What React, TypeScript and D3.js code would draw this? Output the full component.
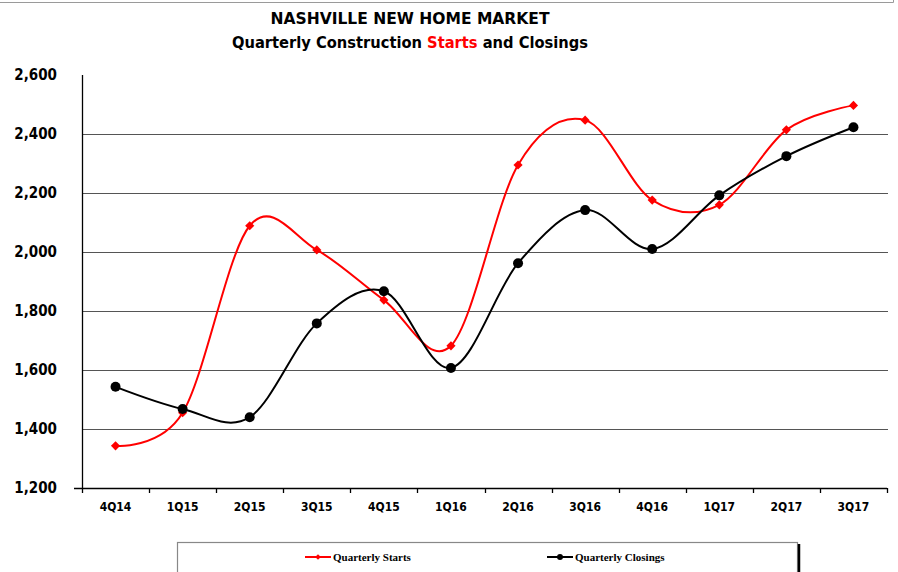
import React, { useEffect, useRef } from 'react';
import * as d3 from 'd3';

const quarters = ['4Q14', '1Q15', '2Q15', '3Q15', '4Q15', '1Q16', '2Q16', '3Q16', '4Q16', '1Q17', '2Q17', '3Q17'];
const starts = [1343, 1455, 2089, 2007, 1837, 1682, 2295, 2447, 2176, 2160, 2414, 2497];
const closings = [1543, 1468, 1440, 1758, 1867, 1607, 1962, 2142, 2010, 2192, 2325, 2423];
const yTicks = [1200, 1400, 1600, 1800, 2000, 2200, 2400, 2600];

const W = 898;
const H = 572;
const plot = { left: 82, right: 887, top: 75, bottom: 488 };

const App: React.FC = () => {
  const svgRef = useRef<SVGSVGElement>(null);

  useEffect(() => {
    const svg = d3.select(svgRef.current);
    svg.selectAll('*').remove();

    const x = d3.scaleBand<string>()
      .domain(quarters)
      .range([plot.left, plot.right])
      .padding(0);
    const cx = (q: string) => x(q)! + x.bandwidth() / 2;

    const y = d3.scaleLinear()
      .domain([1200, 2600])
      .range([plot.bottom, plot.top]);

    // outer frame edge at the top
    svg.append('path')
      .attr('d', `M0,2.5H893.5V-2`)
      .attr('fill', 'none')
      .attr('stroke', '#9a9a9a')
      .attr('stroke-width', 1);

    // title
    svg.append('text')
      .attr('x', 410)
      .attr('y', 24)
      .attr('text-anchor', 'middle')
      .style('font-family', "Tahoma, 'DejaVu Sans Condensed', 'DejaVu Sans', sans-serif")
      .style('font-weight', 'bold')
      .style('font-size', '15px')
      .attr('textLength', 279)
      .attr('lengthAdjust', 'spacingAndGlyphs')
      .text('NASHVILLE NEW HOME MARKET');

    const sub = svg.append('text')
      .attr('x', 410)
      .attr('y', 48)
      .attr('text-anchor', 'middle')
      .style('font-family', "Tahoma, 'DejaVu Sans Condensed', 'DejaVu Sans', sans-serif")
      .style('font-weight', 'bold')
      .style('font-size', '15px')
      .attr('textLength', 356)
      .attr('lengthAdjust', 'spacingAndGlyphs');
    sub.append('tspan').text('Quarterly Construction ');
    sub.append('tspan').attr('fill', '#ff0000').text('Starts');
    sub.append('tspan').text(' and Closings');

    // gridlines
    svg.append('g')
      .selectAll('line')
      .data(yTicks.filter(t => t > 1200 && t < 2600))
      .enter().append('line')
      .attr('x1', plot.left)
      .attr('x2', plot.right + 1)
      .attr('y1', d => Math.round(y(d)) + 0.5)
      .attr('y2', d => Math.round(y(d)) + 0.5)
      .attr('stroke', '#555')
      .attr('stroke-width', 1.2);

    // y axis
    svg.append('line')
      .attr('x1', plot.left + 0.5)
      .attr('x2', plot.left + 0.5)
      .attr('y1', plot.top)
      .attr('y2', plot.bottom)
      .attr('stroke', '#000')
      .attr('stroke-width', 1.3);

    svg.append('g')
      .selectAll('text')
      .data(yTicks)
      .enter().append('text')
      .attr('x', 57)
      .attr('y', d => y(d))
      .attr('dy', '0.36em')
      .attr('text-anchor', 'end')
      .style('font-family', "Tahoma, 'DejaVu Sans Condensed', 'DejaVu Sans', sans-serif")
      .style('font-weight', 'bold')
      .style('font-size', '15px')
      .text(d => d3.format(',')(d));

    // x axis
    svg.append('line')
      .attr('x1', 74)
      .attr('x2', plot.right)
      .attr('y1', plot.bottom + 0.5)
      .attr('y2', plot.bottom + 0.5)
      .attr('stroke', '#000')
      .attr('stroke-width', 1.3);

    const boundaries = quarters.map(q => x(q)!).concat([plot.right]);
    svg.append('g')
      .selectAll('line')
      .data(boundaries)
      .enter().append('line')
      .attr('x1', d => Math.round(d) + 0.5)
      .attr('x2', d => Math.round(d) + 0.5)
      .attr('y1', plot.bottom)
      .attr('y2', plot.bottom + 5)
      .attr('stroke', '#000')
      .attr('stroke-width', 1.3);

    svg.append('g')
      .selectAll('text')
      .data(quarters)
      .enter().append('text')
      .attr('x', d => cx(d))
      .attr('y', 511)
      .attr('text-anchor', 'middle')
      .style('font-family', "Tahoma, 'DejaVu Sans Condensed', 'DejaVu Sans', sans-serif")
      .style('font-weight', 'bold')
      .style('font-size', '12px')
      .text(d => d);

    // series
    const line = d3.line<number>()
      .x((_, i) => cx(quarters[i]))
      .y(d => y(d))
      .curve(d3.curveCardinal.tension(0));

    svg.append('path')
      .datum(starts)
      .attr('d', line)
      .attr('fill', 'none')
      .attr('stroke', '#ff0000')
      .attr('stroke-width', 2);

    svg.append('path')
      .datum(closings)
      .attr('d', line)
      .attr('fill', 'none')
      .attr('stroke', '#000')
      .attr('stroke-width', 2);

    // red markers: square turned 45 degrees
    const diamond = d3.symbol().type(d3.symbolSquare).size(42);
    svg.append('g')
      .selectAll('path')
      .data(starts)
      .enter().append('path')
      .attr('d', diamond)
      .attr('transform', (d, i) => `translate(${cx(quarters[i])},${y(d)}) rotate(45)`)
      .attr('fill', '#ff0000');

    svg.append('g')
      .selectAll('circle')
      .data(closings)
      .enter().append('circle')
      .attr('cx', (_, i) => cx(quarters[i]))
      .attr('cy', d => y(d))
      .attr('r', 5)
      .attr('fill', '#000');

    // legend
    const legend = svg.append('g');
    legend.append('rect')
      .attr('x', 177.5)
      .attr('y', 542.5)
      .attr('width', 620)
      .attr('height', 40)
      .attr('fill', '#fff')
      .attr('stroke', '#888')
      .attr('stroke-width', 1.2);
    legend.append('line')
      .attr('x1', 799)
      .attr('x2', 799)
      .attr('y1', 544)
      .attr('y2', H)
      .attr('stroke', '#000')
      .attr('stroke-width', 2.5);

    const items = [
      { label: 'Quarterly Starts', color: '#ff0000', x0: 305, marker: 'diamond' },
      { label: 'Quarterly Closings', color: '#000', x0: 547, marker: 'circle' }
    ];
    items.forEach(it => {
      const g = legend.append('g');
      g.append('line')
        .attr('x1', it.x0)
        .attr('x2', it.x0 + 26)
        .attr('y1', 557)
        .attr('y2', 557)
        .attr('stroke', it.color)
        .attr('stroke-width', 2);
      if (it.marker === 'diamond') {
        g.append('path')
          .attr('d', d3.symbol().type(d3.symbolSquare).size(16)())
          .attr('transform', `translate(${it.x0 + 13},557) rotate(45)`)
          .attr('fill', it.color);
      } else {
        g.append('circle')
          .attr('cx', it.x0 + 13)
          .attr('cy', 557)
          .attr('r', 3)
          .attr('fill', it.color);
      }
      g.append('text')
        .attr('x', it.x0 + 28)
        .attr('y', 561)
        .style('font-family', "'Liberation Serif', 'DejaVu Serif', serif")
        .style('font-weight', 'bold')
        .style('font-size', '11px')
        .text(it.label);
    });
  }, []);

  return (
    <svg
      ref={svgRef}
      width={W}
      height={H}
      style={{ position: 'absolute', left: 0, top: 0, display: 'block', background: '#fff' }}
    />
  );
};

export default App;
